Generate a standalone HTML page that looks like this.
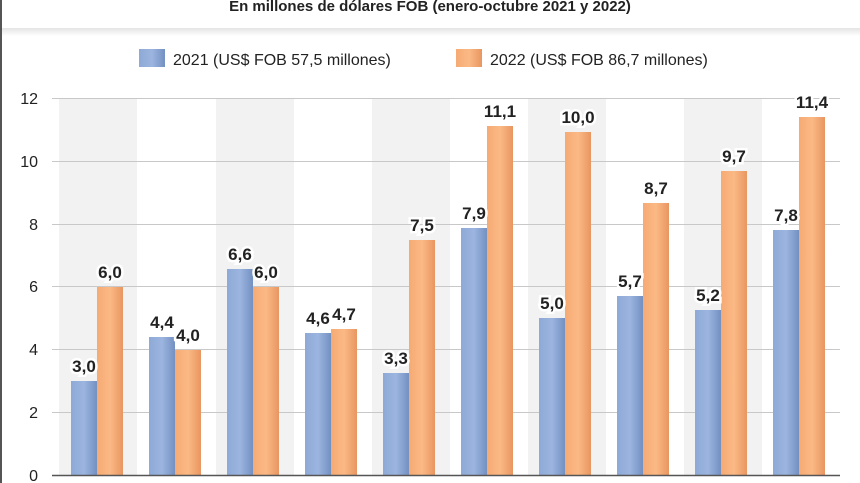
<!DOCTYPE html>
<html><head><meta charset="utf-8"><style>
html,body{margin:0;padding:0;background:#fff;}
svg{display:block;}
text{font-family:"Liberation Sans Narrow","Liberation Sans",sans-serif;}
.v{font-size:17px;font-weight:bold;fill:#222;text-anchor:middle;stroke:#fff;stroke-width:5px;paint-order:stroke;}
</style></head><body>
<svg width="860" height="483" viewBox="0 0 860 483" xmlns="http://www.w3.org/2000/svg">
<defs>
<linearGradient id="b" x1="0" x2="1"><stop offset="0" stop-color="#8fa9d6"/><stop offset="0.5" stop-color="#9cb5e0"/><stop offset="1" stop-color="#7390c2"/></linearGradient>
<linearGradient id="o" x1="0" x2="1"><stop offset="0" stop-color="#f6aa74"/><stop offset="0.5" stop-color="#fbb985"/><stop offset="1" stop-color="#e89660"/></linearGradient>
<linearGradient id="h" x1="0" y1="0" x2="0" y2="1"><stop offset="0" stop-color="#e4e4e4"/><stop offset="1" stop-color="#fff"/></linearGradient>
</defs>
<rect x="0" y="0" width="860" height="483" fill="#fff"/>
<rect x="0" y="28" width="860" height="8" fill="url(#h)"/>
<rect x="0" y="0" width="2" height="483" fill="#555"/>
<text x="430" y="11" text-anchor="middle" font-size="15" font-weight="bold" fill="#222">En millones de dólares FOB (enero-octubre 2021 y 2022)</text>
<rect x="139" y="49" width="26" height="18" fill="url(#b)"/>
<text x="173" y="65" font-size="16" fill="#222">2021 (US$ FOB 57,5 millones)</text>
<rect x="456" y="49" width="26" height="18" fill="url(#o)"/>
<text x="490" y="65" font-size="16" fill="#222">2022 (US$ FOB 86,7 millones)</text>
<g fill="#f2f2f2">
<rect x="59" y="99" width="78" height="376"/>
<rect x="216" y="99" width="78" height="376"/>
<rect x="372" y="99" width="78" height="376"/>
<rect x="528" y="99" width="78" height="376"/>
<rect x="684" y="99" width="78" height="376"/>
</g>
<g stroke="#c8c8c8" stroke-width="1">
<line x1="52" x2="840" y1="98.5" y2="98.5"/>
<line x1="52" x2="840" y1="161.5" y2="161.5"/>
<line x1="52" x2="840" y1="224.5" y2="224.5"/>
<line x1="52" x2="840" y1="286.5" y2="286.5"/>
<line x1="52" x2="840" y1="349.5" y2="349.5"/>
<line x1="52" x2="840" y1="412.5" y2="412.5"/>
</g>
<g font-size="16" fill="#222" text-anchor="end">
<text x="38" y="104">12</text><text x="38" y="167">10</text><text x="38" y="230">8</text>
<text x="38" y="292">6</text><text x="38" y="355">4</text><text x="38" y="418">2</text><text x="38" y="481">0</text>
</g>
<g>
<rect x="71" y="381" width="26" height="94" fill="url(#b)"/><rect x="97" y="287" width="26" height="188" fill="url(#o)"/>
<rect x="149" y="337" width="26" height="138" fill="url(#b)"/><rect x="175" y="350" width="26" height="125" fill="url(#o)"/>
<rect x="227" y="269" width="26" height="206" fill="url(#b)"/><rect x="253" y="287" width="26" height="188" fill="url(#o)"/>
<rect x="305" y="333" width="26" height="142" fill="url(#b)"/><rect x="331" y="329" width="26" height="146" fill="url(#o)"/>
<rect x="383" y="373" width="26" height="102" fill="url(#b)"/><rect x="409" y="240" width="26" height="235" fill="url(#o)"/>
<rect x="461" y="228" width="26" height="247" fill="url(#b)"/><rect x="487" y="126" width="26" height="349" fill="url(#o)"/>
<rect x="539" y="318" width="26" height="157" fill="url(#b)"/><rect x="565" y="132" width="26" height="343" fill="url(#o)"/>
<rect x="617" y="296" width="26" height="179" fill="url(#b)"/><rect x="643" y="203" width="26" height="272" fill="url(#o)"/>
<rect x="695" y="310" width="26" height="165" fill="url(#b)"/><rect x="721" y="171" width="26" height="304" fill="url(#o)"/>
<rect x="773" y="230" width="26" height="245" fill="url(#b)"/><rect x="799" y="117" width="26" height="358" fill="url(#o)"/>
</g>
<g>
<text class="v" x="84" y="372">3,0</text><text class="v" x="110" y="278">6,0</text>
<text class="v" x="162" y="328">4,4</text><text class="v" x="188" y="341">4,0</text>
<text class="v" x="240" y="260">6,6</text><text class="v" x="266" y="278">6,0</text>
<text class="v" x="318" y="324">4,6</text><text class="v" x="344" y="320">4,7</text>
<text class="v" x="396" y="364">3,3</text><text class="v" x="422" y="231">7,5</text>
<text class="v" x="474" y="219">7,9</text><text class="v" x="500" y="117">11,1</text>
<text class="v" x="552" y="309">5,0</text><text class="v" x="578" y="123">10,0</text>
<text class="v" x="630" y="287">5,7</text><text class="v" x="656" y="194">8,7</text>
<text class="v" x="708" y="301">5,2</text><text class="v" x="734" y="162">9,7</text>
<text class="v" x="786" y="221">7,8</text><text class="v" x="812" y="108">11,4</text>
</g>
<line x1="52" x2="840" y1="475.5" y2="475.5" stroke="#555" stroke-width="1.5"/>
</svg>
</body></html>
